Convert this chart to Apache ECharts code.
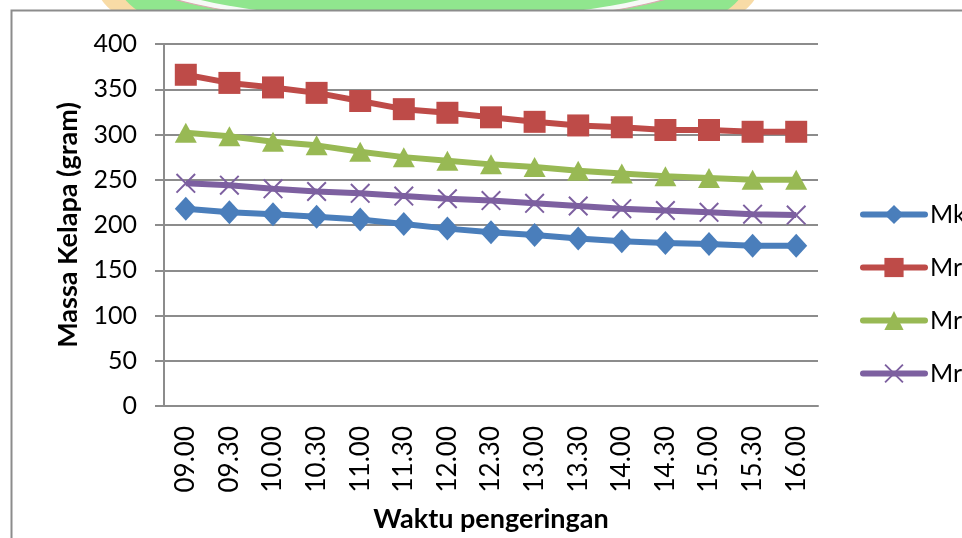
<!DOCTYPE html>
<html>
<head>
<meta charset="utf-8">
<script src="https://cdn.jsdelivr.net/npm/echarts@6/dist/echarts.min.js"></script>
<style>
  html, body { margin: 0; padding: 0; background: #fff; }
  #chart { width: 962px; height: 538px; }
</style>
</head>
<body>
<div id="chart"></div>
<script>
// Drying time (x axis) and coconut mass per sample (grams)
const categories = ['09.00', '09.30', '10.00', '10.30', '11.00', '11.30', '12.00', '12.30',
                    '13.00', '13.30', '14.00', '14.30', '15.00', '15.30', '16.00'];
const seriesNames = ['Mk', 'Mr1', 'Mr2', 'Mr3'];
const mk  = [218, 214, 212, 209, 206, 201, 196, 192, 189, 185, 182, 180, 179, 177, 177];
const mr1 = [366, 357, 352, 346, 337, 328, 324, 319, 314, 310, 308, 305, 305, 303, 303];
const mr2 = [302, 298, 292, 288, 281, 275, 271, 267, 264, 260, 257, 254, 252, 250, 250];
const mr3 = [246, 244, 240, 237, 235, 232, 229, 227, 224, 221, 218, 216, 214, 212, 211];
const yTicks = { min: 0, max: 400, interval: 50 };

const FONT = 'Lato, "Open Sans", sans-serif';
const colors = ['#4a7ebb', '#be4b48', '#98b954', '#7d60a0'];
// thin "x" cross drawn as a filled path
const crossSymbol = 'path://M0,0.7 L0.7,0 L10,9.3 L9.3,10 Z M9.3,0 L10,0.7 L0.7,10 L0,9.3 Z';

function lineSeries(name, data, color, symbol, size) {
  return {
    name: name,
    type: 'line',
    data: data,
    symbol: symbol,
    symbolSize: size,
    showAllSymbol: true,
    lineStyle: { color: color, width: 6 },
    itemStyle: { color: color, borderWidth: 0 },
    emphasis: { disabled: true },
    animation: false
  };
}

// flat ellipse built from a scaled circle
function ellipse(cx, cy, rx, ry, z, style) {
  return {
    type: 'circle', z: z, silent: true,
    x: cx, y: cy, scaleX: 1, scaleY: ry / rx,
    shape: { cx: 0, cy: 0, r: rx },
    style: Object.assign({ strokeNoScale: true }, style)
  };
}

const chart = echarts.init(document.getElementById('chart'), null, { renderer: 'canvas' });

chart.setOption({
  backgroundColor: '#ffffff',
  animation: false,
  graphic: {
    elements: [
      // faint logo peeking above the chart frame
      ellipse(428, -12, 330, 80, -20, { fill: '#f8dba6' }),
      ellipse(432, -14, 312, 74, -19, { fill: '#90e68e' }),
      ellipse(420, -30, 292, 54, -18, { fill: '#f6faf6', stroke: '#dba9b0', lineWidth: 4 }),
      ellipse(420, -30, 274, 50, -17, { fill: '#90e68e' }),
      // chart frame
      { type: 'rect', z: -10, silent: true,
        shape: { x: 11.5, y: 10.5, width: 1000, height: 600 },
        style: { fill: '#ffffff', stroke: '#8c8c8c', lineWidth: 2 } }
    ]
  },
  grid: { left: 164, right: 144, top: 44, bottom: 129, containLabel: false },
  legend: {
    orient: 'vertical',
    left: 860,
    top: 202,
    padding: 0,
    itemWidth: 62,
    itemHeight: 24,
    itemGap: 28,
    textStyle: { fontFamily: FONT, fontSize: 25, color: '#000' },
    data: seriesNames.map((n, i) => ({
      name: n,
      lineStyle: { width: 6, color: colors[i], cap: 'round' }
    }))
  },
  xAxis: {
    type: 'category',
    data: categories,
    boundaryGap: true,
    name: 'Waktu pengeringan',
    nameLocation: 'middle',
    nameGap: 100,
    nameTextStyle: { fontFamily: FONT, fontSize: 27, fontWeight: 'bold', color: '#000' },
    axisLine: { lineStyle: { color: '#8c8c8c', width: 2 } },
    axisTick: { show: false },
    axisLabel: { rotate: 90, margin: 20, fontFamily: FONT, fontSize: 26, color: '#000', interval: 0 },
    splitLine: { show: false }
  },
  yAxis: {
    type: 'value',
    min: yTicks.min,
    max: yTicks.max,
    interval: yTicks.interval,
    name: 'Massa Kelapa (gram)',
    nameLocation: 'middle',
    nameRotate: 90,
    nameGap: 82,
    nameTextStyle: { fontFamily: FONT, fontSize: 27, fontWeight: 'bold', color: '#000' },
    axisLine: { show: true, lineStyle: { color: '#8c8c8c', width: 2 } },
    axisTick: { show: true, length: 9, lineStyle: { color: '#8c8c8c', width: 2 } },
    axisLabel: { margin: 27, fontFamily: FONT, fontSize: 25, color: '#000' },
    splitLine: { show: true, lineStyle: { color: '#8c8c8c', width: 2 } }
  },
  series: [
    lineSeries(seriesNames[0], mk, colors[0], 'diamond', [22, 24]),
    lineSeries(seriesNames[1], mr1, colors[1], 'rect', 22),
    lineSeries(seriesNames[2], mr2, colors[2], 'triangle', [22, 20]),
    lineSeries(seriesNames[3], mr3, colors[3], crossSymbol, 20)
  ]
});
</script>
</body>
</html>
